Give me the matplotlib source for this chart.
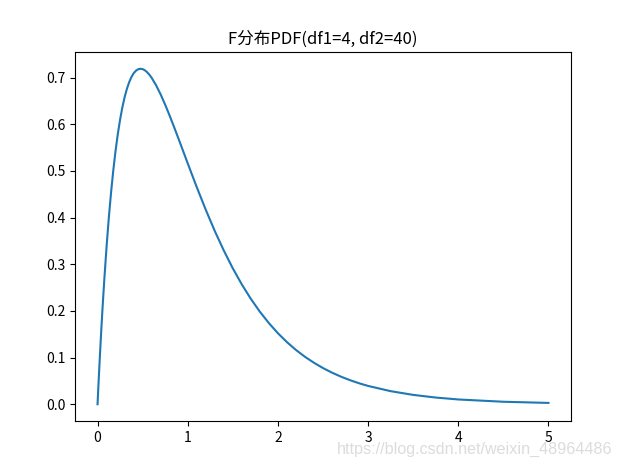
import matplotlib
matplotlib.use('Agg')
import matplotlib.pyplot as plt

plt.rcParams['font.family'] = ['Noto Sans CJK SC', 'DejaVu Sans']
plt.rcParams['axes.unicode_minus'] = False

# values
x_vals = [0.0, 0.005, 0.01, 0.02, 0.03, 0.04, 0.05, 0.06, 0.075, 0.1, 0.125,
          0.15, 0.175, 0.2, 0.225, 0.25, 0.275, 0.3, 0.325, 0.35, 0.375, 0.4,
          0.425, 0.45, 0.475, 0.5, 0.525, 0.55, 0.575, 0.6, 0.65, 0.7, 0.75,
          0.8, 0.85, 0.9, 0.95, 1.0, 1.1, 1.2, 1.3, 1.4, 1.5, 1.6, 1.7, 1.8,
          1.9, 2.0, 2.1, 2.2, 2.3, 2.4, 2.5, 2.6, 2.7, 2.8, 2.9, 3.0, 3.25,
          3.5, 3.75, 4.0, 4.5, 5.0]
pdf_vals = [0.0, 0.0208, 0.0411, 0.0804, 0.1180, 0.1539, 0.1882, 0.2209,
            0.2672, 0.3374, 0.3995, 0.4540, 0.5018, 0.5433, 0.5792, 0.6099,
            0.6359, 0.6576, 0.6754, 0.6896, 0.7007, 0.7090, 0.7144, 0.7176,
            0.7187, 0.7180, 0.7154, 0.7113, 0.7059, 0.6993, 0.6831, 0.6636,
            0.6417, 0.6180, 0.5932, 0.5677, 0.5419, 0.5160, 0.4651, 0.4166,
            0.3711, 0.3293, 0.2910, 0.2566, 0.2257, 0.1982, 0.1738, 0.1521,
            0.1331, 0.1163, 0.1016, 0.0888, 0.0775, 0.0676, 0.0590, 0.0515,
            0.0449, 0.0392, 0.0280, 0.0200, 0.0143, 0.0102, 0.0053, 0.0028]

fig = plt.figure(figsize=(6.21, 4.67), dpi=100)
ax = fig.add_axes([75 / 621, 46 / 467, 496 / 621, 369 / 467])
ax.plot(x_vals, pdf_vals, color='#1f77b4', linewidth=1.5)
ax.set_title('F分布PDF(df1=4, df2=40)', fontsize=12)
ax.tick_params(labelsize=10)

fig.text(612 / 621, 10 / 467, 'https://blog.csdn.net/weixin_48964486',
         ha='right', va='bottom', fontsize=11.6, color='#dcdcdc',
         family=['Liberation Sans', 'DejaVu Sans'])

plt.savefig('out.png', dpi=100)
